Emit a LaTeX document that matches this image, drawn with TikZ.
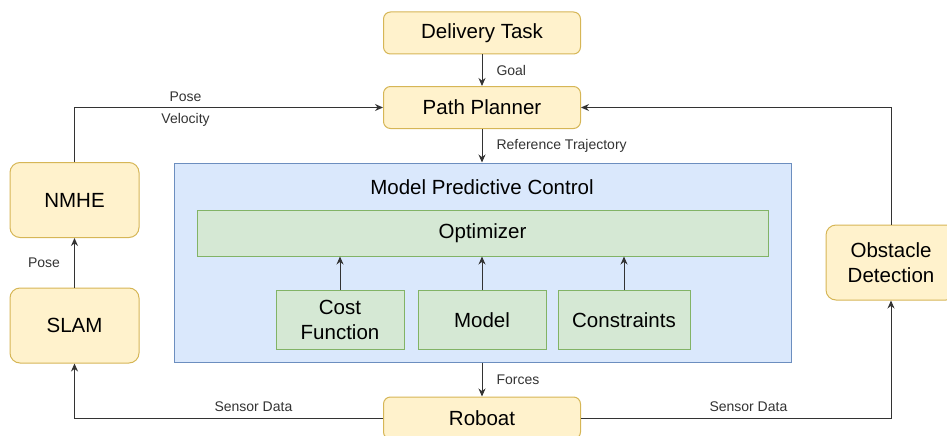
\documentclass[tikz,border=0pt]{standalone}
\usepackage{fontspec}
\setmainfont{Liberation Sans}
\usetikzlibrary{arrows.meta}

\definecolor{yfill}{HTML}{FFF2CC}
\definecolor{ydraw}{HTML}{D6B656}
\definecolor{bfill}{HTML}{DAE8FC}
\definecolor{bdraw}{HTML}{6C8EBF}
\definecolor{gfill}{HTML}{D5E8D4}
\definecolor{gdraw}{HTML}{82B366}

\tikzset{
  block/.style={draw=ydraw,fill=yfill,rounded corners=7pt,line width=1pt,
    minimum width=197pt,minimum height=42pt,inner sep=0pt,
    font=\fontsize{20.5}{25}\selectfont,align=center},
  sidebox/.style={block,minimum width=129pt,minimum height=75pt,rounded corners=10pt},
  part/.style={draw=gdraw,fill=gfill,line width=1pt,minimum width=128pt,
    minimum height=59pt,inner sep=0pt,font=\fontsize{20.5}{25}\selectfont,align=center},
  arr/.style={-{Stealth[length=8pt,width=7pt]},line width=1pt,black!80},
  lbl/.style={font=\fontsize{14}{16}\selectfont,inner sep=2pt}
}

\begin{document}
\begin{tikzpicture}[x=1pt,y=-1pt]
  \useasboundingbox (0,0) rectangle (947,436);
  % yellow blocks
  \node[block] (task) at (482,33) {Delivery Task};
  \node[block] (planner) at (482,107.5) {Path Planner};
  \node[block] (roboat) at (482,418) {Roboat};
  \node[sidebox] (nmhe) at (74.5,200) {NMHE};
  \node[sidebox] (slam) at (74.5,325.5) {SLAM};
  \node[sidebox,minimum width=130pt] (obst) at (891,262.5) {Obstacle\\Detection};
  % model predictive control
  \node[draw=bdraw,fill=bfill,line width=1pt,minimum width=617pt,minimum height=199pt]
      (mpc) at (482.5,262.5) {};
  \node[font=\fontsize{20.5}{25}\selectfont] (mpctitle) at (482,187) {Model Predictive Control};
  \node[part,minimum width=571pt,minimum height=46pt] (opt) at (482.5,233) {Optimizer};
  \node[part] (cost) at (340,320) {Cost\\Function};
  \node[part] (model) at (482,320) {Model};
  \node[part,minimum width=132pt] (cons) at (624,320) {Constraints};
  % connectors
  \draw[arr] (task) -- node[lbl,right=12pt] {Goal} (planner);
  \draw[arr] (planner) -- node[lbl,right=12pt,anchor=west] {Reference Trajectory} (mpc.north -| planner);
  \draw[arr] (mpc.south -| roboat) -- node[lbl,right=12pt,anchor=west] {Forces} (roboat);
  \draw[arr] (cost) -- (opt.south -| cost);
  \draw[arr] (model) -- (opt.south -| model);
  \draw[arr] (cons) -- (opt.south -| cons);
  \draw[arr] (slam) -- node[lbl,left=12pt] {Pose} (nmhe);
  \draw[arr] (nmhe.north) |- node[lbl,pos=0.68,above=3pt] {Pose}
      node[lbl,pos=0.68,below=3pt] {Velocity} (planner.west);
  \draw[arr] (roboat.west) -| node[lbl,pos=0.21,above=4pt] {Sensor Data} (slam.south);
  \draw[arr] (roboat.east) -| node[lbl,pos=0.27,above=4pt] {Sensor Data} (obst.south);
  \draw[arr] (obst.north) |- (planner.east);
\end{tikzpicture}
\end{document}
